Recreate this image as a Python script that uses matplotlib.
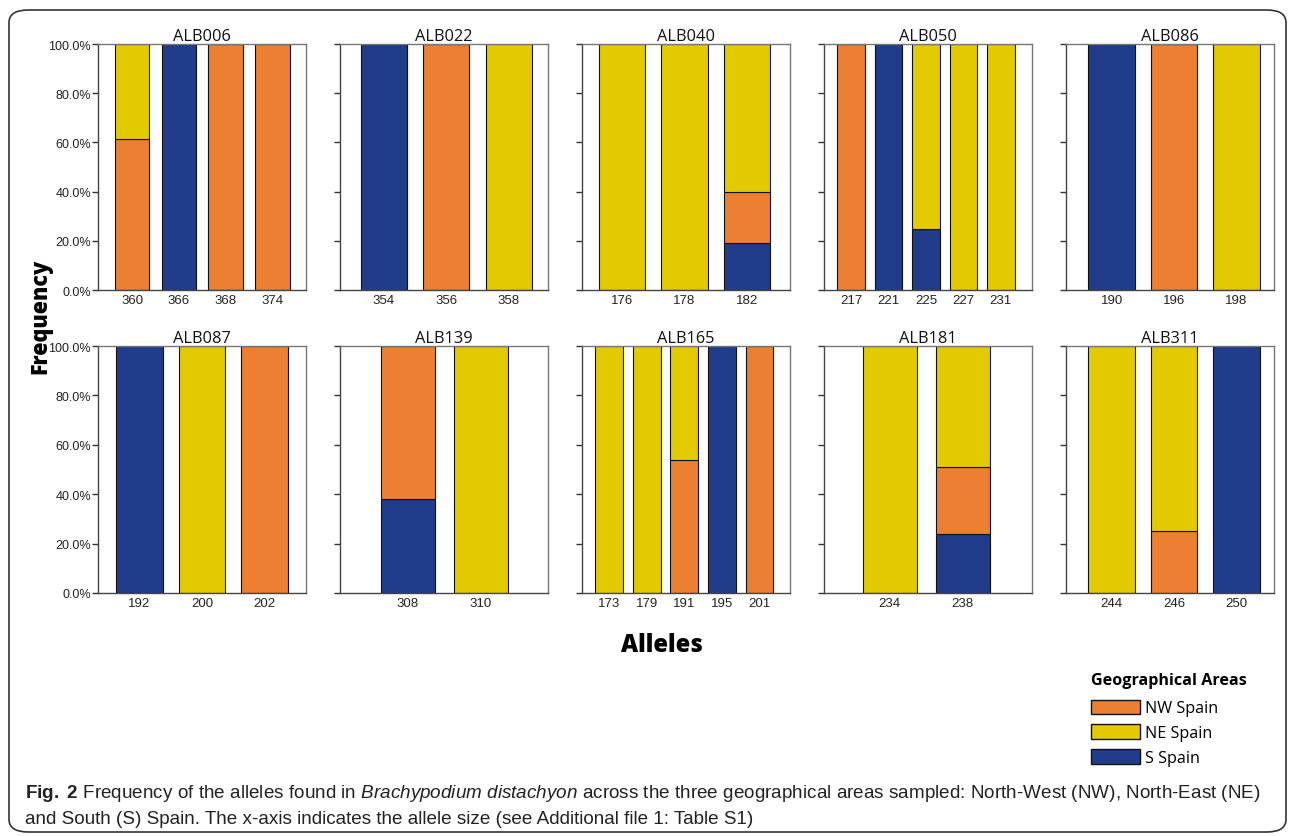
import matplotlib
matplotlib.use('Agg')
import matplotlib.pyplot as plt
from matplotlib.patches import Patch, FancyBboxPatch
from matplotlib.ticker import PercentFormatter

plt.rcParams['font.family'] = ['Liberation Sans', 'DejaVu Sans']
plt.rcParams['mathtext.fontset'] = 'custom'
plt.rcParams['mathtext.rm'] = 'Liberation Sans'
plt.rcParams['mathtext.it'] = 'Liberation Sans:italic'
plt.rcParams['mathtext.bf'] = 'Liberation Sans:bold'

# --- data (fractions per allele) ---
markers = ['ALB006', 'ALB022', 'ALB040', 'ALB050', 'ALB086',
           'ALB087', 'ALB139', 'ALB165', 'ALB181', 'ALB311']
alleles = [['360', '366', '368', '374'],
           ['354', '356', '358'],
           ['176', '178', '182'],
           ['217', '221', '225', '227', '231'],
           ['190', '196', '198'],
           ['192', '200', '202'],
           ['308', '310'],
           ['173', '179', '191', '195', '201'],
           ['234', '238'],
           ['244', '246', '250']]
s_spain = [[0, 1, 0, 0],
           [1, 0, 0],
           [0, 0, 0.19],
           [0, 1, 0.25, 0, 0],
           [1, 0, 0],
           [1, 0, 0],
           [0.38, 0],
           [0, 0, 0, 1, 0],
           [0, 0.24],
           [0, 0, 1]]
nw_spain = [[0.615, 0, 1, 1],
            [0, 1, 0],
            [0, 0, 0.21],
            [1, 0, 0, 0, 0],
            [0, 1, 0],
            [0, 0, 1],
            [0.62, 0],
            [0, 0, 0.54, 0, 1],
            [0, 0.27],
            [0, 0.25, 0]]
ne_spain = [[0.385, 0, 0, 0],
            [0, 0, 1],
            [1, 1, 0.60],
            [0, 0, 0.75, 1, 1],
            [0, 0, 1],
            [0, 1, 0],
            [0, 1],
            [1, 1, 0.46, 0, 0],
            [1, 0.49],
            [1, 0.75, 0]]

# empty space left/right of the bars in each panel (bar units)
pads = [(0.73, 0.72), (0.70, 0.63), (0.64, 0.69), (0.72, 0.83), (0.73, 0.60),
        (0.66, 0.66), (0.93, 0.92), (0.72, 0.81), (0.90, 0.95), (0.73, 0.60)]

c_nw, c_ne, c_s = '#EC7F32', '#E2C900', '#213C8B'

fig = plt.figure(figsize=(12.9, 8.37), dpi=100)

W, H = 1290, 837
ax_w, ax_step = 208, 242
rows = [(45, 291), (347, 594)]

for i, m in enumerate(markers):
    r, c = divmod(i, 5)
    top, bot = rows[r]
    x0 = 98 + c * ax_step
    ax = fig.add_axes([x0 / W, 1 - bot / H, ax_w / W, (bot - top) / H])
    pos = list(range(len(alleles[i])))
    s = s_spain[i]
    nw = nw_spain[i]
    ne = ne_spain[i]
    kw = dict(width=0.74, edgecolor='#111111', linewidth=0.8)
    ax.bar(pos, s, color=c_s, **kw)
    ax.bar(pos, nw, bottom=s, color=c_nw, **kw)
    ax.bar(pos, ne, bottom=[a + b for a, b in zip(s, nw)], color=c_ne, **kw)
    ax.set_xlim(-pads[i][0], len(pos) - 1 + pads[i][1])
    ax.set_ylim(0, 1)
    ax.set_xticks(pos)
    ax.set_xticklabels(alleles[i], fontsize=9.5, color='#222222')
    ax.tick_params(axis='x', length=0, pad=3)
    ax.set_yticks([0, 0.2, 0.4, 0.6, 0.8, 1.0])
    ax.yaxis.set_major_formatter(PercentFormatter(1.0, decimals=1))
    ax.tick_params(axis='y', length=4, width=1, color='#333333', labelsize=9,
                   labelcolor='#222222', pad=1)
    if c != 0:
        ax.set_yticklabels([])
    for side in ['top', 'right']:
        ax.spines[side].set_color('#777777')
    for side in ['left', 'bottom']:
        ax.spines[side].set_color('#444444')
    for sp in ax.spines.values():
        sp.set_linewidth(1.0)
    ax.set_title(m, fontsize=11.8, pad=3, family=['Open Sans', 'DejaVu Sans'], color='#111111')

fig.text(40 / W, 1 - 316 / H, 'Frequency', rotation=90, ha='center', va='center',
         fontsize=15.5, fontweight='heavy', family=['Open Sans', 'DejaVu Sans'])
fig.text(662 / W, 1 - 646 / H, 'Alleles', ha='center', va='center',
         fontsize=17, fontweight='heavy', family=['Open Sans', 'DejaVu Sans'])

handles = [Patch(facecolor=c_nw, edgecolor='#111111', label='NW Spain'),
           Patch(facecolor=c_ne, edgecolor='#111111', label='NE Spain'),
           Patch(facecolor=c_s, edgecolor='#111111', label='S Spain')]
leg = fig.legend(handles=handles, title='Geographical Areas', loc='upper left',
                 bbox_to_anchor=(1085 / W, 1 - 667 / H), frameon=False,
                 handlelength=3.0, handleheight=1.0, handletextpad=0.3,
                 labelspacing=0.5, borderaxespad=0,
                 prop={'family': ['Open Sans', 'DejaVu Sans'], 'size': 11.6})
leg.get_title().set_fontweight('bold')
leg.get_title().set_fontsize(11.6)
leg.get_title().set_family(['Open Sans', 'DejaVu Sans'])
leg._legend_box.align = 'left'
leg._legend_box.sep = 8

# caption
fig.text(25 / W, 1 - 794 / H,
         r'$\mathbf{Fig.\ 2}$ Frequency of the alleles found in $\mathit{Brachypodium\ distachyon}$'
         ' across the three geographical areas sampled: North-West (NW), North-East (NE)',
         ha='left', va='center', fontsize=13.6, color='#222222')
fig.text(25 / W, 1 - 820 / H,
         'and South (S) Spain. The x-axis indicates the allele size (see Additional file 1: Table S1)',
         ha='left', va='center', fontsize=13.6, color='#222222')

# rounded frame around the whole figure
frame = FancyBboxPatch((9 / W, 1 - 833 / H), 1277 / W, 822 / H,
                       boxstyle='round,pad=0,rounding_size=0.015',
                       transform=fig.transFigure, fill=False,
                       edgecolor='#333333', linewidth=1.2)
fig.add_artist(frame)

fig.savefig('out.png', dpi=100)
